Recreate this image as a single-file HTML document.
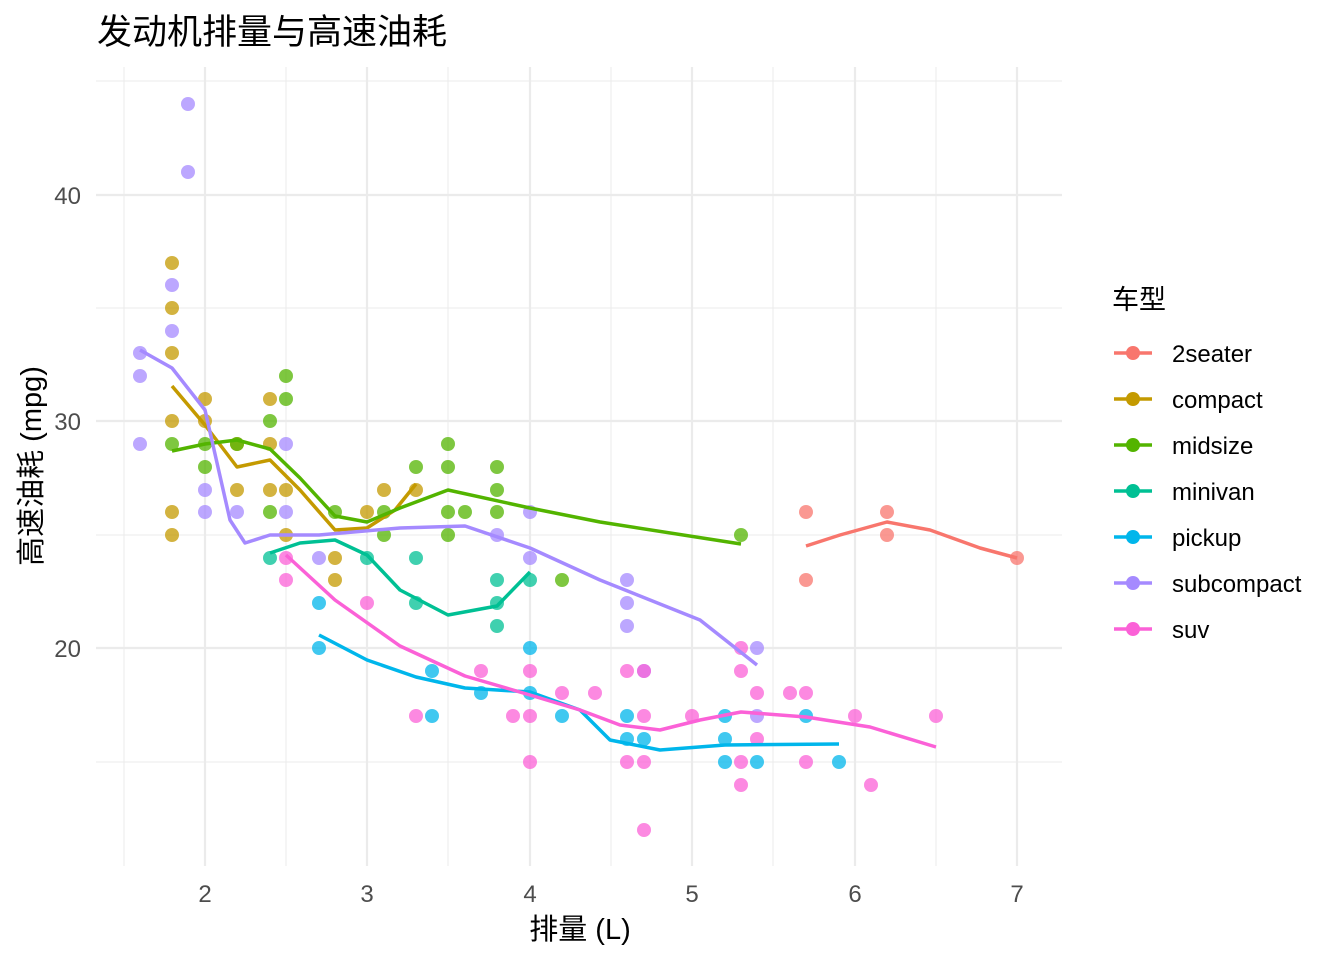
<!DOCTYPE html>
<html><head><meta charset="utf-8"><style>body{margin:0;background:#fff}</style></head><body>
<svg width="1344" height="960" xmlns="http://www.w3.org/2000/svg" font-family="Liberation Sans, Noto Sans CJK SC, sans-serif">
<rect width="1344" height="960" fill="#fff"/>
<g stroke="#ebebeb" stroke-width="1">
<line x1="96" x2="1062" y1="81" y2="81"/><line x1="96" x2="1062" y1="308" y2="308"/><line x1="96" x2="1062" y1="535" y2="535"/><line x1="96" x2="1062" y1="762" y2="762"/>
<line x1="124" x2="124" y1="67" y2="866"/><line x1="286" x2="286" y1="67" y2="866"/><line x1="448" x2="448" y1="67" y2="866"/><line x1="611" x2="611" y1="67" y2="866"/><line x1="773" x2="773" y1="67" y2="866"/><line x1="936" x2="936" y1="67" y2="866"/>
</g>
<g stroke="#ebebeb" stroke-width="2.2">
<line x1="96" x2="1062" y1="195" y2="195"/><line x1="96" x2="1062" y1="421" y2="421"/><line x1="96" x2="1062" y1="648" y2="648"/>
<line x1="205" x2="205" y1="67" y2="866"/><line x1="367" x2="367" y1="67" y2="866"/><line x1="530" x2="530" y1="67" y2="866"/><line x1="692" x2="692" y1="67" y2="866"/><line x1="855" x2="855" y1="67" y2="866"/><line x1="1017" x2="1017" y1="67" y2="866"/>
</g>
<g fill-opacity="0.75">
<g fill="#F8766D"><circle cx="806" cy="512" r="7"/><circle cx="806" cy="580" r="7"/><circle cx="887" cy="512" r="7"/><circle cx="887" cy="535" r="7"/><circle cx="1017" cy="558" r="7"/></g>
<g fill="#C49A00"><circle cx="172" cy="263" r="7"/><circle cx="172" cy="308" r="7"/><circle cx="172" cy="353" r="7"/><circle cx="172" cy="421" r="7"/><circle cx="172" cy="512" r="7"/><circle cx="172" cy="535" r="7"/><circle cx="205" cy="399" r="7"/><circle cx="205" cy="421" r="7"/><circle cx="237" cy="490" r="7"/><circle cx="237" cy="444" r="7"/><circle cx="270" cy="399" r="7"/><circle cx="270" cy="444" r="7"/><circle cx="270" cy="490" r="7"/><circle cx="286" cy="490" r="7"/><circle cx="286" cy="535" r="7"/><circle cx="335" cy="558" r="7"/><circle cx="335" cy="580" r="7"/><circle cx="367" cy="512" r="7"/><circle cx="384" cy="490" r="7"/><circle cx="416" cy="490" r="7"/></g>
<g fill="#53B400"><circle cx="172" cy="444" r="7"/><circle cx="205" cy="444" r="7"/><circle cx="205" cy="467" r="7"/><circle cx="237" cy="444" r="7"/><circle cx="270" cy="421" r="7"/><circle cx="270" cy="512" r="7"/><circle cx="286" cy="376" r="7"/><circle cx="286" cy="399" r="7"/><circle cx="335" cy="512" r="7"/><circle cx="384" cy="512" r="7"/><circle cx="384" cy="535" r="7"/><circle cx="416" cy="467" r="7"/><circle cx="448" cy="444" r="7"/><circle cx="448" cy="467" r="7"/><circle cx="448" cy="512" r="7"/><circle cx="448" cy="535" r="7"/><circle cx="465" cy="512" r="7"/><circle cx="497" cy="467" r="7"/><circle cx="497" cy="490" r="7"/><circle cx="497" cy="512" r="7"/><circle cx="562" cy="580" r="7"/><circle cx="741" cy="535" r="7"/></g>
<g fill="#00C094"><circle cx="270" cy="558" r="7"/><circle cx="367" cy="558" r="7"/><circle cx="416" cy="558" r="7"/><circle cx="416" cy="603" r="7"/><circle cx="497" cy="580" r="7"/><circle cx="497" cy="603" r="7"/><circle cx="497" cy="626" r="7"/><circle cx="530" cy="580" r="7"/></g>
<g fill="#00B6EB"><circle cx="319" cy="603" r="7"/><circle cx="319" cy="648" r="7"/><circle cx="432" cy="671" r="7"/><circle cx="432" cy="716" r="7"/><circle cx="481" cy="693" r="7"/><circle cx="530" cy="648" r="7"/><circle cx="530" cy="693" r="7"/><circle cx="562" cy="716" r="7"/><circle cx="627" cy="716" r="7"/><circle cx="627" cy="739" r="7"/><circle cx="644" cy="739" r="7"/><circle cx="725" cy="716" r="7"/><circle cx="725" cy="739" r="7"/><circle cx="725" cy="762" r="7"/><circle cx="757" cy="762" r="7"/><circle cx="806" cy="716" r="7"/><circle cx="839" cy="762" r="7"/></g>
<g fill="#A58AFF"><circle cx="140" cy="353" r="7"/><circle cx="140" cy="376" r="7"/><circle cx="140" cy="444" r="7"/><circle cx="172" cy="285" r="7"/><circle cx="172" cy="331" r="7"/><circle cx="188" cy="104" r="7"/><circle cx="188" cy="172" r="7"/><circle cx="205" cy="490" r="7"/><circle cx="205" cy="512" r="7"/><circle cx="237" cy="512" r="7"/><circle cx="286" cy="444" r="7"/><circle cx="286" cy="512" r="7"/><circle cx="319" cy="558" r="7"/><circle cx="497" cy="535" r="7"/><circle cx="530" cy="512" r="7"/><circle cx="530" cy="558" r="7"/><circle cx="627" cy="580" r="7"/><circle cx="627" cy="603" r="7"/><circle cx="627" cy="626" r="7"/><circle cx="644" cy="671" r="7"/><circle cx="757" cy="648" r="7"/><circle cx="757" cy="716" r="7"/></g>
<g fill="#FB61D7"><circle cx="286" cy="558" r="7"/><circle cx="286" cy="580" r="7"/><circle cx="367" cy="603" r="7"/><circle cx="416" cy="716" r="7"/><circle cx="481" cy="671" r="7"/><circle cx="513" cy="716" r="7"/><circle cx="530" cy="671" r="7"/><circle cx="530" cy="716" r="7"/><circle cx="530" cy="762" r="7"/><circle cx="562" cy="693" r="7"/><circle cx="595" cy="693" r="7"/><circle cx="627" cy="671" r="7"/><circle cx="627" cy="762" r="7"/><circle cx="644" cy="671" r="7"/><circle cx="644" cy="716" r="7"/><circle cx="644" cy="762" r="7"/><circle cx="644" cy="830" r="7"/><circle cx="692" cy="716" r="7"/><circle cx="741" cy="648" r="7"/><circle cx="741" cy="671" r="7"/><circle cx="741" cy="762" r="7"/><circle cx="741" cy="785" r="7"/><circle cx="757" cy="693" r="7"/><circle cx="757" cy="739" r="7"/><circle cx="790" cy="693" r="7"/><circle cx="806" cy="693" r="7"/><circle cx="806" cy="762" r="7"/><circle cx="855" cy="716" r="7"/><circle cx="871" cy="785" r="7"/><circle cx="936" cy="716" r="7"/></g>
</g>
<g fill="none" stroke-width="3.5" stroke-linejoin="round">
<polyline stroke="#F8766D" points="806,546 840,535 887,522 930,530 980,548 1017,558"/>
<polyline stroke="#C49A00" points="172,386 205,425 237,467 270,460 300,490 335,530 367,528 395,510 416,484"/>
<polyline stroke="#53B400" points="172,451 205,444 237,440 270,449 300,478 335,516 367,522 400,508 448,490 530,508 600,522 741,544"/>
<polyline stroke="#00C094" points="270,553 300,543 335,540 367,555 400,590 448,615 497,606 530,572"/>
<polyline stroke="#00B6EB" points="319,635 367,660 416,677 465,688 530,692 580,710 610,740 660,750 725,745 839,744"/>
<polyline stroke="#A58AFF" points="140,350 172,368 205,410 230,520 245,543 270,535 319,535 400,528 465,526 530,548 600,580 700,620 757,665"/>
<polyline stroke="#FB61D7" points="286,555 335,600 400,646 465,676 530,695 580,710 620,725 660,730 700,720 741,712 806,717 870,727 936,747"/>
</g>
<g fill="#4d4d4d" font-size="24" text-anchor="end"><text x="81" y="204">40</text><text x="81" y="430">30</text><text x="81" y="657">20</text></g>
<g fill="#4d4d4d" font-size="24" text-anchor="middle"><text x="205" y="902">2</text><text x="367" y="902">3</text><text x="530" y="902">4</text><text x="692" y="902">5</text><text x="855" y="902">6</text><text x="1017" y="902">7</text></g>
<text x="580" y="939" font-size="29" text-anchor="middle" fill="#000">排量 (L)</text>
<text transform="translate(41,466) rotate(-90)" font-size="29" text-anchor="middle" fill="#000">高速油耗 (mpg)</text>
<text x="97" y="44" font-size="35" fill="#000">发动机排量与高速油耗</text>
<text x="1112" y="309" font-size="27" fill="#000">车型</text>
<g stroke-width="3.5">
<line x1="1114" x2="1152" y1="353" y2="353" stroke="#F8766D"/><circle cx="1133" cy="353" r="7" fill="#F8766D"/>
<line x1="1114" x2="1152" y1="399" y2="399" stroke="#C49A00"/><circle cx="1133" cy="399" r="7" fill="#C49A00"/>
<line x1="1114" x2="1152" y1="445" y2="445" stroke="#53B400"/><circle cx="1133" cy="445" r="7" fill="#53B400"/>
<line x1="1114" x2="1152" y1="491" y2="491" stroke="#00C094"/><circle cx="1133" cy="491" r="7" fill="#00C094"/>
<line x1="1114" x2="1152" y1="537" y2="537" stroke="#00B6EB"/><circle cx="1133" cy="537" r="7" fill="#00B6EB"/>
<line x1="1114" x2="1152" y1="583" y2="583" stroke="#A58AFF"/><circle cx="1133" cy="583" r="7" fill="#A58AFF"/>
<line x1="1114" x2="1152" y1="629" y2="629" stroke="#FB61D7"/><circle cx="1133" cy="629" r="7" fill="#FB61D7"/>
</g>
<g font-size="24" fill="#000"><text x="1172" y="362">2seater</text><text x="1172" y="408">compact</text><text x="1172" y="454">midsize</text><text x="1172" y="500">minivan</text><text x="1172" y="546">pickup</text><text x="1172" y="592">subcompact</text><text x="1172" y="638">suv</text></g>
</svg>
</body></html>
